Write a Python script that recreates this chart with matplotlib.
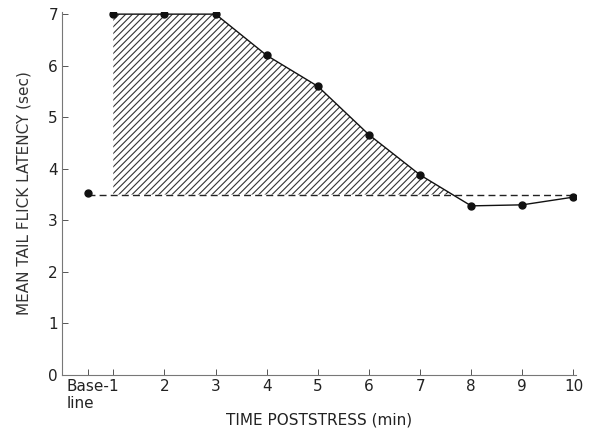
import numpy as np
import matplotlib.pyplot as plt

# ==========================================================
# DATA
# ==========================================================

baseline_x = 0.5
baseline_y = 3.52

minutes = [1, 2, 3, 4, 5, 6, 7, 8, 9, 10]
latency = [7.0, 7.0, 7.0, 6.2, 5.6, 4.66, 3.88, 3.28, 3.3, 3.45]

ref_level = 3.5

tick_pos = [0.5, 1, 2, 3, 4, 5, 6, 7, 8, 9, 10]
tick_labels = ["Base-\nline", "1", "2", "3", "4", "5", "6", "7", "8", "9", "10"]

# ==========================================================
# FIGURE
# ==========================================================

plt.rcParams["font.family"] = ["DejaVu Sans"]
plt.rcParams["hatch.linewidth"] = 0.8

fig = plt.figure(figsize=(5.92, 4.28), dpi=100)
ax = fig.add_axes([0.105, 0.124, 0.868, 0.849])

# hatched area between curve and reference level
x_all = np.array(minutes, dtype=float)
y_all = np.array(latency)
# crossing point between minute 7 and 8
i = 6
x_cross = x_all[i] + (ref_level - y_all[i]) * (x_all[i + 1] - x_all[i]) / (y_all[i + 1] - y_all[i])
poly_x = list(x_all[:i + 1]) + [x_cross, 1]
poly_y = list(y_all[:i + 1]) + [ref_level, ref_level]
ax.fill(poly_x, poly_y, facecolor="white", edgecolor="#333333",
        hatch="/////", linewidth=0)

# reference dashed line
ax.plot([baseline_x, 10], [ref_level, ref_level], color="#222222",
        linestyle=(0, (5, 3)), linewidth=1.0)

# data line
ax.plot(minutes, latency, color="#111111", linewidth=1.0,
        marker="o", markersize=5)
ax.plot([baseline_x], [baseline_y], color="#111111",
        marker="o", markersize=5)

# ==========================================================
# AXES
# ==========================================================

ax.set_xlim(0, 10.05)
ax.set_ylim(0, 7.05)

ax.set_xticks(tick_pos)
ax.set_xticklabels(tick_labels, fontsize=11, color="#222222")
ax.get_xticklabels()[0].set_multialignment("left")
ax.set_yticks(range(0, 8))
ax.set_yticklabels([str(v) for v in range(0, 8)], fontsize=11, color="#222222")

ax.tick_params(direction="in", length=4, width=0.7, colors="#555555",
               labelcolor="#222222", pad=3)

for side in ["top", "right"]:
    ax.spines[side].set_visible(False)
for side in ["left", "bottom"]:
    ax.spines[side].set_color("#777777")
    ax.spines[side].set_linewidth(0.8)

ax.set_xlabel("TIME POSTSTRESS (min)", fontsize=11, color="#222222",
              labelpad=1)
ax.set_ylabel("MEAN TAIL FLICK LATENCY (sec)", fontsize=11, color="#333333",
              labelpad=12)

fig.savefig("out.png", dpi=100)
